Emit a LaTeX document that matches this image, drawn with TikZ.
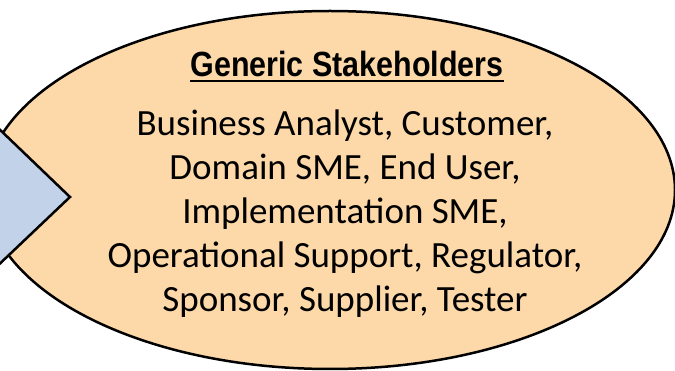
\documentclass[tikz,border=0pt]{standalone}
\usepackage{fontspec}
\usetikzlibrary{shapes.geometric}
\setmainfont{Carlito}
\newfontfamily\titlefont{Liberation Sans}[FakeStretch=0.87]
\definecolor{ellfill}{HTML}{FDD9A9}
\definecolor{arrfill}{HTML}{C2D2E8}
\tikzset{
  outline/.style={draw=black, line width=2.5pt, line join=miter},
  bodytext/.style={align=center, inner sep=0pt, font=\fontsize{37}{44}\selectfont},
  titletext/.style={inner sep=0pt, font=\titlefont\bfseries\fontsize{35}{40}\selectfont},
}
\begin{document}
\begin{tikzpicture}[x=1pt,y=1pt]
\useasboundingbox (0,0) rectangle (675,-371);
\clip (0,0) rectangle (675,-371);
\node[outline, fill=ellfill, ellipse, minimum width=690pt, minimum height=358pt, inner sep=0pt] (ell) at (330,-190) {};
\path[outline, fill=arrfill] (-30,-101) -- (70,-197) -- (-30,-292) -- cycle;
\node[titletext, anchor=base] (title) at (347,-77) {Generic Stakeholders};
\draw[line width=2pt] ([yshift=-4.5pt]title.base west) -- ([yshift=-4.5pt]title.base east);
\node[bodytext, anchor=base] (body) at (345,-312) {Business Analyst, Customer,\\Domain SME, End User,\\Implementation SME,\\Operational Support, Regulator,\\Sponsor, Supplier, Tester};
\end{tikzpicture}
\end{document}
